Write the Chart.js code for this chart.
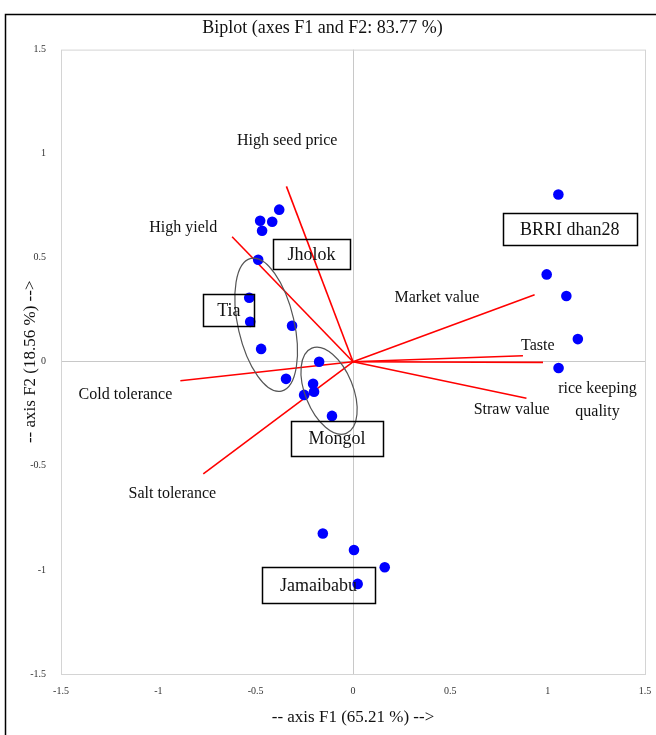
<!DOCTYPE html>
<html>
<head>
<meta charset="utf-8">
<script src="https://cdn.jsdelivr.net/npm/chart.js@4.4.0/dist/chart.umd.min.js"></script>
<style>
  html, body { margin: 0; padding: 0; background: #fff; }
  #wrap { position: relative; width: 656px; height: 735px; }
</style>
</head>
<body>
<div id="wrap"><canvas id="biplot"></canvas></div>
<script>
// observations (F1, F2)
const obsF1 = [1.055, 0.995, 1.096, 1.155, 1.056,
               -0.379, -0.477, -0.415, -0.467, -0.487,
               -0.533, -0.528, -0.313, -0.472, -0.344,
               -0.174, -0.205, -0.200, -0.251, -0.108,
               -0.155, 0.005, 0.163, 0.024];
const obsF2 = [0.804, 0.420, 0.316, 0.109, -0.030,
               0.731, 0.678, 0.673, 0.630, 0.490,
               0.308, 0.192, 0.173, 0.062, -0.082,
               0.000, -0.106, -0.144, -0.159, -0.260,
               -0.825, -0.904, -0.987, -1.067];

// variables (loadings)
const varNames = ["High seed price", "High yield", "Cold tolerance", "Salt tolerance",
                  "Market value", "Taste", "rice keeping quality", "Straw value"];
const varF1 = [-0.342, -0.621, -0.887, -0.769, 0.933, 0.873, 0.976, 0.891];
const varF2 = [0.843, 0.601, -0.091, -0.538, 0.322, 0.029, -0.003, -0.175];

const tickValues = [-1.5, -1, -0.5, 0, 0.5, 1, 1.5];
const groupNames = ["BRRI dhan28", "Jholok", "Tia", "Mongol", "Jamaibabu"];

// annotation placement (data coords)
const varLabelPos = [
  {text: ["High seed price"], x: -0.338, y: 1.062},
  {text: ["High yield"], x: -0.872, y: 0.644},
  {text: ["Cold tolerance"], x: -1.169, y: -0.159},
  {text: ["Salt tolerance"], x: -0.928, y: -0.635},
  {text: ["Market value"], x: 0.431, y: 0.308},
  {text: ["Taste"], x: 0.949, y: 0.077},
  {text: ["rice keeping", "quality"], x: 1.256, y: -0.130},
  {text: ["Straw value"], x: 0.815, y: -0.231}
];
const groupBoxPos = [
  {x: 1.113, y: 0.639, w: 134, h: 32},
  {x: -0.213, y: 0.519, w: 77, h: 30},
  {x: -0.638, y: 0.250, w: 51, h: 32},
  {x: -0.082, y: -0.368, w: 92, h: 35},
  {x: -0.177, y: -1.072, w: 113, h: 36}
];
const ellipses = [
  {x: -0.446, y: 0.178, rx: 0.144, ry: 0.327, rot: -13},
  {x: -0.123, y: -0.139, rx: 0.123, ry: 0.221, rot: -22}
];

const serif = "'Liberation Serif', 'Times New Roman', serif";

const datasets = [{
  label: "Observations",
  data: obsF1.map((v, i) => ({x: v, y: obsF2[i]})),
  backgroundColor: "#0000ff",
  borderWidth: 0,
  pointRadius: 5.3,
  order: 0
}];
varNames.forEach((name, i) => {
  datasets.push({
    label: name,
    data: [{x: 0, y: 0}, {x: varF1[i], y: varF2[i]}],
    showLine: true,
    borderColor: "#ff0000",
    borderWidth: 1.6,
    pointRadius: 0,
    order: 1
  });
});

const decor = {
  id: "decor",
  beforeDraw(chart) {
    const ctx = chart.ctx;
    ctx.save();
    ctx.strokeStyle = "#000";
    ctx.lineWidth = 1.5;
    ctx.beginPath();
    ctx.moveTo(5.5, 735);
    ctx.lineTo(5.5, 14.5);
    ctx.lineTo(656, 14.5);
    ctx.stroke();
    ctx.restore();
  },
  beforeDatasetsDraw(chart) {
    const {ctx, chartArea: a} = chart;
    ctx.save();
    ctx.strokeStyle = "#d4d4d4";
    ctx.lineWidth = 1;
    ctx.strokeRect(a.left + 0.5, a.top + 0.5, a.right - a.left, a.bottom - a.top);
    ctx.restore();
  },
  afterDatasetsDraw(chart) {
    const ctx = chart.ctx;
    const xs = chart.scales.x, ys = chart.scales.y;
    const pxX = Math.abs(xs.getPixelForValue(1) - xs.getPixelForValue(0));
    const pxY = Math.abs(ys.getPixelForValue(1) - ys.getPixelForValue(0));
    ctx.save();

    // group ellipses
    ctx.strokeStyle = "#555";
    ctx.lineWidth = 1.2;
    ellipses.forEach(e => {
      ctx.beginPath();
      ctx.ellipse(xs.getPixelForValue(e.x), ys.getPixelForValue(e.y),
                  e.rx * pxX, e.ry * pxY, e.rot * Math.PI / 180, 0, Math.PI * 2);
      ctx.stroke();
    });

    // variable labels
    ctx.fillStyle = "#111";
    ctx.font = "16px " + serif;
    ctx.textAlign = "center";
    ctx.textBaseline = "middle";
    varLabelPos.forEach(l => {
      const cx = xs.getPixelForValue(l.x), cy = ys.getPixelForValue(l.y);
      l.text.forEach((t, k) => ctx.fillText(t, cx, cy + k * 23));
    });

    // group name boxes
    ctx.font = "18px " + serif;
    ctx.strokeStyle = "#000";
    ctx.lineWidth = 1.5;
    groupNames.forEach((name, i) => {
      const b = groupBoxPos[i];
      const cx = xs.getPixelForValue(b.x), cy = ys.getPixelForValue(b.y);
      ctx.strokeRect(Math.round(cx - b.w / 2) + 0.5, Math.round(cy - b.h / 2) + 0.5, b.w, b.h);
      ctx.fillText(name, cx, cy + 1);
    });
    ctx.restore();
  }
};

const zeroGrid = c => (c.tick && c.tick.value === 0) ? "#c8c8c8" : "rgba(0,0,0,0)";
const plainTick = v => String(v);

new Chart(document.getElementById("biplot"), {
  type: "scatter",
  data: {datasets: datasets},
  options: {
    responsive: true,
    maintainAspectRatio: false,
    animation: false,
    layout: {padding: {left: 0, right: 11, top: 0, bottom: 0}},
    plugins: {
      legend: {display: false},
      tooltip: {enabled: false},
      title: {
        display: true,
        text: "Biplot (axes F1 and F2: 83.77 %)",
        color: "#111",
        font: {family: serif, size: 18, weight: "normal"},
        padding: {top: 17, bottom: 11}
      }
    },
    scales: {
      x: {
        type: "linear",
        min: -1.5, max: 1.5,
        afterBuildTicks: s => { s.ticks = tickValues.map(v => ({value: v})); },
        afterFit: s => { s.height = 61; s.paddingLeft = 0; s.paddingRight = 0; },
        border: {display: false},
        grid: {color: zeroGrid, drawTicks: false, lineWidth: 1},
        ticks: {padding: 11, color: "#333", font: {family: serif, size: 10}, callback: plainTick},
        title: {
          display: true,
          text: "-- axis F1 (65.21 %) -->",
          color: "#111",
          font: {family: serif, size: 17},
          padding: {top: 0, bottom: 7}
        }
      },
      y: {
        type: "linear",
        min: -1.5, max: 1.5,
        afterBuildTicks: s => { s.ticks = tickValues.map(v => ({value: v})); },
        afterFit: s => { s.width = 61; s.paddingTop = 0; s.paddingBottom = 0; },
        border: {display: false},
        grid: {color: zeroGrid, drawTicks: false, lineWidth: 1},
        ticks: {padding: 15, color: "#333", font: {family: serif, size: 10}, callback: plainTick},
        title: {
          display: true,
          text: "-- axis F2 (18.56 %) -->",
          color: "#111",
          font: {family: serif, size: 17},
          padding: {top: 20, bottom: 0}
        }
      }
    }
  },
  plugins: [decor]
});
</script>
</body>
</html>
